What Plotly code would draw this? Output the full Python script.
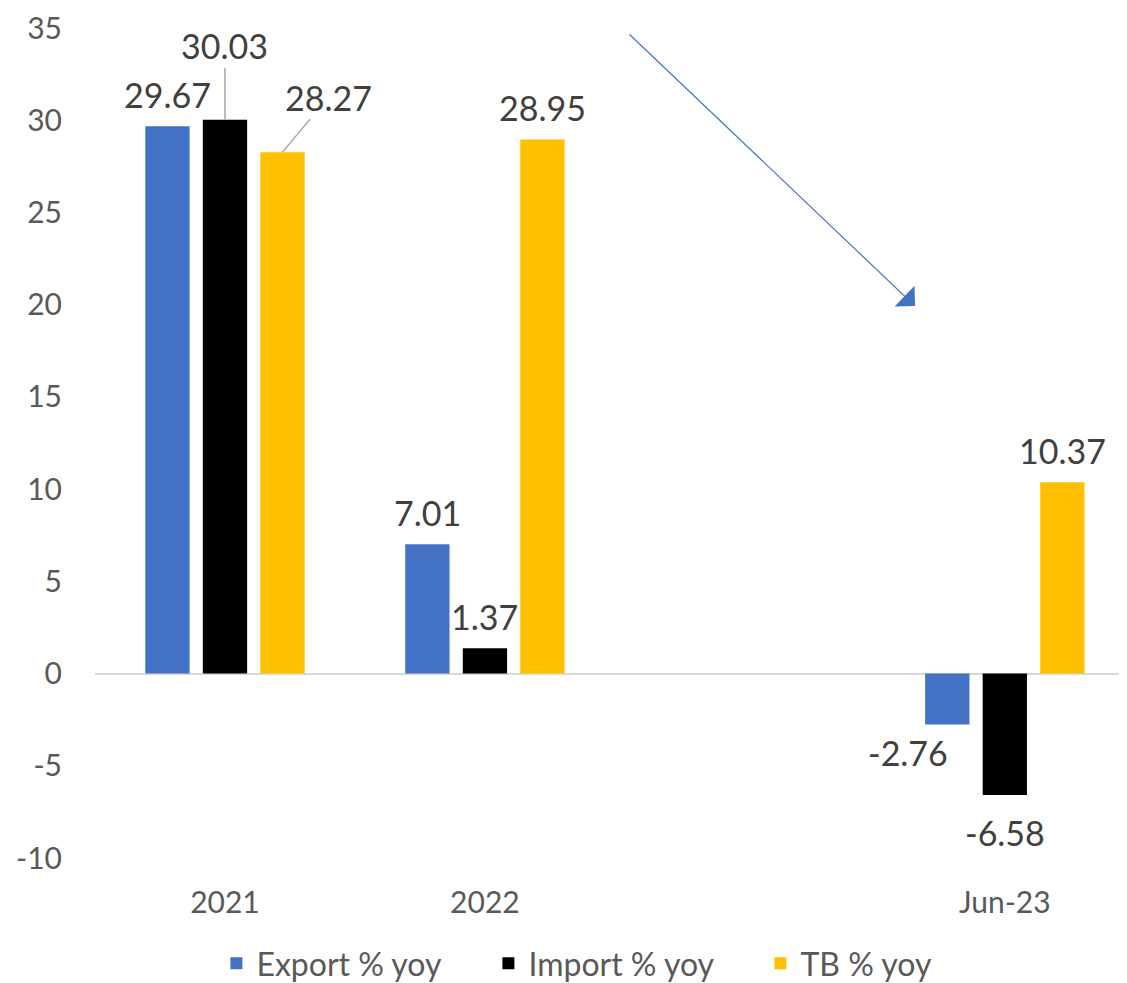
import plotly.graph_objects as go

periods = ['2021', '2022', ' ', 'Jun-23']
export_yoy = [29.67, 7.01, None, -2.76]
import_yoy = [30.03, 1.37, None, -6.58]
tb_yoy = [28.27, 28.95, None, 10.37]

y_ticks = [-10, -5, 0, 5, 10, 15, 20, 25, 30, 35]
y_tick_text = ['-10', '-5', '0', '5', '10', '15', '20', '25', '30', '35']

series = [
    ('Export % yoy', export_yoy, '#4472C4'),
    ('Import % yoy', import_yoy, '#000000'),
    ('TB % yoy', tb_yoy, '#FFC000'),
]

FONT = 'Lato'
LABEL_COLOR = '#404040'
TICK_COLOR = '#595959'

fig = go.Figure()
for name, vals, color in series:
    fig.add_trace(go.Bar(
        x=periods, y=vals, name=name,
        marker=dict(color=color, line=dict(width=0)),
        hoverinfo='skip',
    ))

# bar offsets inside a group (pixels) and label placement tweaks
offsets = [-57.5, 0, 57.5]
leader = {(1, 0): (0, -74), (2, 0): (46, -55)}   # labels pulled away with a leader line
nudge = {(0, 3): (-39, -28)}                      # labels just moved

annotations = []
for i, (name, vals, color) in enumerate(series):
    for j, v in enumerate(vals):
        if v is None:
            continue
        a = dict(x=j, y=v, xref='x', yref='y', text=f'{v:.2f}',
                 font=dict(family=FONT, size=34, color=LABEL_COLOR))
        if (i, j) in leader:
            ax, ay = leader[(i, j)]
            a.update(showarrow=True, arrowhead=0, arrowwidth=1.5,
                     arrowcolor='#A6A6A6', ax=ax, ay=ay,
                     xshift=offsets[i], standoff=0)
        elif (i, j) in nudge:
            xs, ys = nudge[(i, j)]
            a.update(showarrow=False, xshift=offsets[i] + xs, yshift=ys)
        else:
            a.update(showarrow=False, xshift=offsets[i],
                     yshift=32 if v >= 0 else -38)
        annotations.append(a)

# trend arrow
annotations.append(dict(
    x=0.7946, y=0.665, xref='paper', yref='paper',
    ax=-287, ay=-273, text='', showarrow=True,
    arrowhead=1, arrowsize=4, arrowwidth=1.2, arrowcolor='#4472C4',
))

fig.update_layout(
    width=1119, height=983,
    paper_bgcolor='white', plot_bgcolor='white',
    barmode='group', bargap=0.336, bargroupgap=0.23,
    margin=dict(l=87, r=0, t=20, b=130),
    font=dict(family=FONT, size=30, color=TICK_COLOR),
    showlegend=True,
    legend=dict(
        orientation='h', x=0.513, xanchor='center', y=-0.127, yanchor='middle',
        font=dict(family=FONT, size=32, color=TICK_COLOR),
        entrywidth=227, entrywidthmode='pixels', traceorder='normal',
    ),
    annotations=annotations,
    xaxis=dict(
        type='category', range=[-0.5, 3.47], automargin=False,
        showgrid=False, showline=False, ticks='', ticklabelstandoff=24,
        tickfont=dict(family=FONT, size=30, color=TICK_COLOR),
    ),
    yaxis=dict(
        range=[-10, 35], tickvals=y_ticks, ticktext=y_tick_text, automargin=False,
        showgrid=False, showline=False, ticklabeloverflow='allow',
        zeroline=True, zerolinecolor='#D9D9D9', zerolinewidth=2,
        ticks='', ticklabelstandoff=32,
        tickfont=dict(family=FONT, size=30, color=TICK_COLOR),
    ),
)

fig.write_html('out.html')
